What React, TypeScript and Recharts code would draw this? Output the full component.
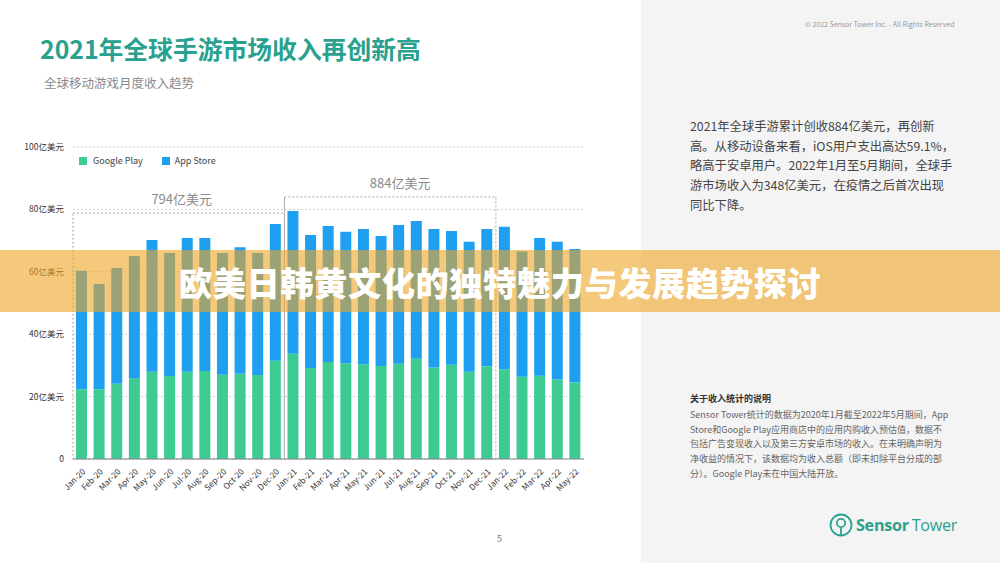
import React from 'react';
import { BarChart, Bar, XAxis, YAxis, CartesianGrid, ReferenceArea, ReferenceLine } from 'recharts';

const months = ['Jan-20','Feb-20','Mar-20','Apr-20','May-20','Jun-20','Jul-20','Aug-20','Sep-20','Oct-20','Nov-20','Dec-20','Jan-21','Feb-21','Mar-21','Apr-21','May-21','Jun-21','Jul-21','Aug-21','Sep-21','Oct-21','Nov-21','Dec-21','Jan-22','Feb-22','Mar-22','Apr-22','May-22'];
const googlePlay = [22.4,22.4,24.1,25.9,28.0,26.6,28.0,28.2,27.0,27.3,26.9,31.5,33.7,29.2,31.1,30.7,30.4,29.8,30.5,32.1,29.3,30.2,28.0,29.7,28.8,26.4,26.7,25.5,24.5];
const appStore = [37.9,33.7,37.1,39.2,42.2,39.4,42.8,42.6,39.0,40.6,39.1,43.8,45.8,42.6,43.6,42.1,43.3,41.7,44.5,44.2,44.4,42.9,41.6,44.0,45.6,40.1,44.1,44.1,42.8];
const yTicks = [0, 20, 40, 60, 80, 100];
const yearBoxes = [
  { label: '794亿美元', from: 'Jan-20', to: 'Dec-20', top: 78.8 },
  { label: '884亿美元', from: 'Jan-21', to: 'Dec-21', top: 84 },
];
const seriesNames = ['Google Play', 'App Store'];

const title = '2021年全球手游市场收入再创新高';
const subtitle = '全球移动游戏月度收入趋势';
const copyright = '© 2022 Sensor Tower Inc. - All Rights Reserved';
const summaryLines = [
  '2021年全球手游累计创收884亿美元，再创新',
  '高。从移动设备来看，iOS用户支出高达59.1%，',
  '略高于安卓用户。2022年1月至5月期间，全球手',
  '游市场收入为348亿美元，在疫情之后首次出现',
  '同比下降。',
];
const noteTitle = '关于收入统计的说明';
const noteLines = [
  'Sensor Tower统计的数据为2020年1月截至2022年5月期间，App',
  'Store和Google Play应用商店中的应用内购收入预估值，数据不',
  '包括广告变现收入以及第三方安卓市场的收入。在未明确声明为',
  '净收益的情况下，该数据均为收入总额（即未扣除平台分成的部',
  '分）。Google Play未在中国大陆开放。',
];
const bannerText = '欧美日韩黄文化的独特魅力与发展趋势探讨';
const pageNumber = '5';

const GREEN = '#3ecb92';
const BLUE = '#1f9ff0';
const TEAL = '#2aa18f';
const FONT = '"Noto Sans CJK SC", "Noto Sans", sans-serif';
const labelShift = [3, 10];

const data = months.map((m, i) => ({ month: m, gp: googlePlay[i], as: appStore[i] }));

export default function App() {
  return (
    <div style={{ position: 'absolute', left: 0, top: 0, width: 1000, height: 563, background: '#fff', overflow: 'hidden', fontFamily: FONT }}>
      <div style={{ position: 'absolute', left: 641, top: 0, width: 359, height: 563, background: '#f4f4f4' }} />
      <div style={{ position: 'absolute', left: 40, top: 31, fontSize: 24.8, fontWeight: 700, color: TEAL, whiteSpace: 'nowrap', lineHeight: '34px' }}>{title}</div>
      <div style={{ position: 'absolute', left: 44, top: 74, fontSize: 12.5, color: '#8a8a8a', whiteSpace: 'nowrap', lineHeight: '18px' }}>{subtitle}</div>

      <div style={{ position: 'absolute', left: 0, top: 0 }}>
        <BarChart width={640} height={520} data={data} margin={{ top: 147, right: 56, left: 13, bottom: 16 }} barSize={11}>
          <CartesianGrid vertical={false} stroke="#cfcfcf" strokeDasharray="2 2" />
          <XAxis dataKey="month" interval={0} angle={-45} textAnchor="end" height={45} tickLine={false}
            axisLine={{ stroke: '#8a8a8a' }} tick={{ fontSize: 8.3, fill: '#333', fontFamily: FONT }} tickMargin={3} />
          <YAxis domain={[0, 100]} ticks={yTicks} width={60} axisLine={false} tickLine={false} tickMargin={3}
            tick={{ fontSize: 8.5, fill: '#333', fontFamily: FONT }} tickFormatter={(v: number) => (v === 0 ? '0' : `${v}亿美元`)} />
          <Bar dataKey="gp" name={seriesNames[0]} stackId="a" fill={GREEN} isAnimationActive={false} />
          <Bar dataKey="as" name={seriesNames[1]} stackId="a" fill={BLUE} isAnimationActive={false} />
          {yearBoxes.map((b, i) => (
            <ReferenceArea key={b.label} x1={b.from} x2={b.to} y1={0} y2={b.top} fill="none" fillOpacity={0}
              stroke="#aaaaaa" strokeDasharray="2 2" strokeWidth={1} ifOverflow="visible"
              label={{ value: b.label, position: 'top', offset: 9, dx: labelShift[i], fill: '#8a8a8a', fontSize: 13, fontFamily: FONT } as any} />
          ))}
          <ReferenceLine segment={[{ x: yearBoxes[1].from, y: 0 }, { x: yearBoxes[1].from, y: yearBoxes[1].top }]}
            position="start" stroke="#b0b0b0" strokeWidth={1} ifOverflow="visible" />
        </BarChart>
      </div>

      <div style={{ position: 'absolute', left: 79, top: 154, display: 'flex', alignItems: 'center', fontSize: 9, color: '#444', whiteSpace: 'nowrap' }}>
        <span style={{ width: 8, height: 8, background: GREEN, display: 'inline-block', marginRight: 6 }} />
        <span style={{ marginRight: 19 }}>{seriesNames[0]}</span>
        <span style={{ width: 8, height: 8, background: BLUE, display: 'inline-block', marginRight: 5 }} />
        <span>{seriesNames[1]}</span>
      </div>

      <div style={{ position: 'absolute', left: 805, top: 19, fontSize: 7, color: '#999', whiteSpace: 'nowrap' }}>{copyright}</div>
      {summaryLines.map((l, i) => (
        <div key={i} style={{ position: 'absolute', left: 690, top: 116 + i * 19.7, fontSize: 12.3, lineHeight: '20px', color: '#444', whiteSpace: 'nowrap' }}>{l}</div>
      ))}
      <div style={{ position: 'absolute', left: 690, top: 392, fontSize: 9, fontWeight: 700, color: '#333', whiteSpace: 'nowrap', lineHeight: '14px' }}>{noteTitle}</div>
      {noteLines.map((l, i) => (
        <div key={i} style={{ position: 'absolute', left: 690, top: 408 + i * 14.7, fontSize: 9, lineHeight: '14px', color: '#666', whiteSpace: 'nowrap' }}>{l}</div>
      ))}
      <svg style={{ position: 'absolute', left: 828, top: 512 }} width={26} height={26} viewBox="0 0 26 26">
        <circle cx={13} cy={13} r={10.5} fill="none" stroke={TEAL} strokeWidth={1.8} />
        <circle cx={13} cy={11} r={4.2} fill="none" stroke={TEAL} strokeWidth={1.8} />
        <line x1={13} y1={15.2} x2={13} y2={23.5} stroke={TEAL} strokeWidth={1.8} />
      </svg>
      <div style={{ position: 'absolute', left: 856, top: 513, fontSize: 16.2, color: TEAL, whiteSpace: 'nowrap', lineHeight: '24px', fontFamily: '"Open Sans", sans-serif', letterSpacing: -0.3 }}>
        <span style={{ fontWeight: 700 }}>Sensor</span><span style={{ marginLeft: 3 }}>Tower</span>
      </div>
      <div style={{ position: 'absolute', left: 497, top: 532, fontSize: 9, color: '#777' }}>{pageNumber}</div>

      <div style={{ position: 'absolute', left: 0, top: 250, width: 1000, height: 62, background: 'rgba(238,165,35,0.6)', display: 'flex', alignItems: 'center', justifyContent: 'center' }}>
        <span style={{ color: '#fff', fontSize: 33.3, fontWeight: 900, letterSpacing: 0.5, whiteSpace: 'nowrap' }}>{bannerText}</span>
      </div>
    </div>
  );
}
